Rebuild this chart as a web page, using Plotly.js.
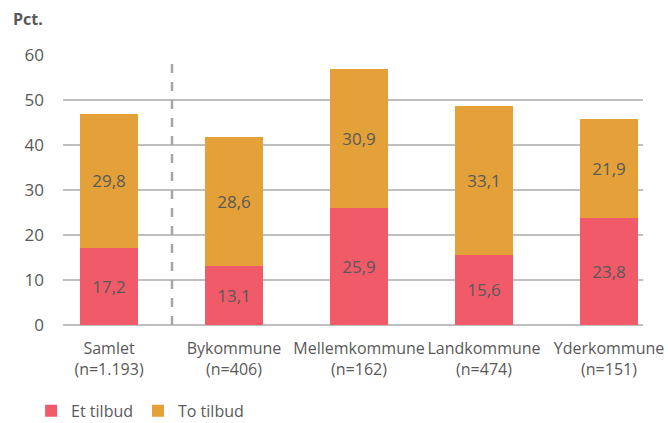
<!DOCTYPE html>
<html><head><meta charset="utf-8">
<script src="https://cdn.plot.ly/plotly-3.0.1.min.js"></script>
<style>body{margin:0;background:#fff}#c{width:668px;height:423px}</style>
</head><body><div id="c"></div>
<script>
const categories = ["Samlet<br>(n=1.193)", "Bykommune<br>(n=406)", "Mellemkommune<br>(n=162)", "Landkommune<br>(n=474)", "Yderkommune<br>(n=151)"];
const etTilbud = [17.2, 13.1, 25.9, 15.6, 23.8];
const toTilbud = [29.8, 28.6, 30.9, 33.1, 21.9];
const yTicks = [0, 10, 20, 30, 40, 50, 60];

const font = "Open Sans, Noto Sans, sans-serif";
const txtCol = "#595959";
const idx = categories.map((c, i) => i);

const traces = [
  {type: "bar", name: "Et tilbud", x: idx, y: etTilbud, marker: {color: "#F05A69"},
   texttemplate: "%{y:.1f}", textposition: "inside", insidetextanchor: "middle",
   textfont: {family: font, size: 17, color: txtCol}, width: 0.464, hoverinfo: "none"},
  {type: "bar", name: "To tilbud", x: idx, y: toTilbud, marker: {color: "#E4A13A"},
   texttemplate: "%{y:.1f}", textposition: "inside", insidetextanchor: "middle",
   textfont: {family: font, size: 17, color: txtCol}, width: 0.464, hoverinfo: "none"}
];

const layout = {
  width: 668, height: 423,
  margin: {l: 63, r: 25, t: 55, b: 98, autoexpand: false},
  barmode: "stack",
  separators: ",.",
  paper_bgcolor: "#fff", plot_bgcolor: "#fff",
  font: {family: font, size: 16, color: txtCol},
  xaxis: {range: [-0.368, 4.272], tickvals: idx, ticktext: categories, automargin: false,
          tickangle: 0, showgrid: false, zeroline: false, showline: false, ticks: "",
          ticklabelstandoff: 12,
          tickfont: {family: font, size: 16, color: txtCol}, fixedrange: true},
  yaxis: {range: [0, 60], tickvals: yTicks, showgrid: true, gridcolor: "#BFBFBF", gridwidth: 1.3,
          zeroline: true, zerolinecolor: "#BFBFBF", zerolinewidth: 1.5, showline: false, ticks: "",
          ticklabelstandoff: 18, automargin: false,
          tickfont: {family: font, size: 17, color: txtCol}, fixedrange: true},
  shapes: [{type: "line", xref: "x", yref: "y", x0: 0.504, x1: 0.504, y0: 0, y1: 60,
            line: {color: "#A6A6A6", width: 2.5, dash: "dash"}, layer: "above"}],
  annotations: [{text: "<b>Pct.</b>", xref: "paper", yref: "paper", x: -0.09, y: 1.135,
                 xanchor: "left", yanchor: "middle", showarrow: false,
                 font: {family: font, size: 16, color: txtCol}}],
  legend: {orientation: "h", x: -0.055, xanchor: "left", y: -0.318, yanchor: "middle",
           font: {family: font, size: 16, color: txtCol}, traceorder: "normal",
           itemwidth: 30, bgcolor: "rgba(0,0,0,0)", borderwidth: 0},
  showlegend: true
};
Plotly.newPlot("c", traces, layout, {displayModeBar: false, staticPlot: true});
</script></body></html>
